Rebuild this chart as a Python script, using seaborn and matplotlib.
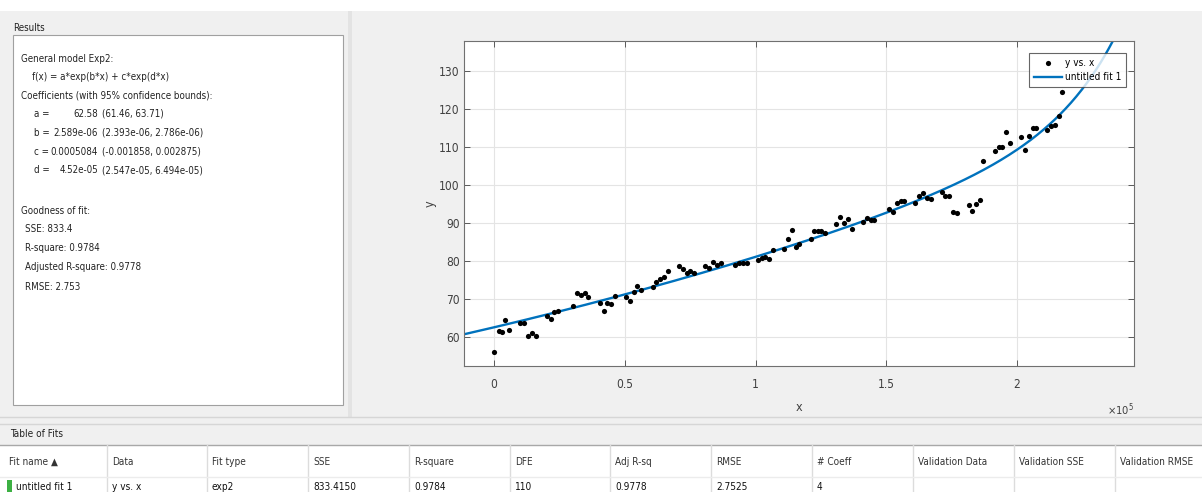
import numpy as np
import pandas as pd
import matplotlib
matplotlib.use('Agg')
import matplotlib.pyplot as plt
import seaborn as sns
from matplotlib.patches import Rectangle
from matplotlib.lines import Line2D
from matplotlib.ticker import FuncFormatter, MultipleLocator

# data (x in raw units, plotted as x10^5)
x_vals = [0, 1700, 2900, 4300, 5700, 10100, 11500, 13000, 14600, 16000,
          20300, 21700, 23100, 24500, 30300, 31700, 33200, 34600, 36100,
          40500, 41900, 43300, 44800, 46200, 50600, 52000, 53400, 54800, 56300,
          60700, 62100, 63500, 64900, 66400, 70600, 72200, 73600, 75000, 76500,
          80800, 82200, 83700, 85100, 86600, 92300, 93700, 95100, 96600,
          100900, 102300, 103700, 105200, 106600, 111000, 112400, 113800, 115300, 116700,
          121100, 122500, 123900, 125200, 126600, 130900, 132400, 133800, 135200, 136700,
          141000, 142500, 144000, 145400, 151000, 152400, 154000, 155500, 156900,
          161100, 162500, 164100, 165500, 166900, 171200, 172600, 174000, 175600, 177000,
          181500, 182900, 184300, 185700, 187100, 191400, 193000, 194400, 195800, 197300,
          201500, 202900, 204500, 205900, 207300, 211600, 213000, 214600, 216000, 217300]
y_vals = [56.0, 61.7, 61.3, 64.5, 61.8, 63.6, 63.6, 60.2, 61.2, 60.3,
          65.6, 64.7, 66.5, 66.9, 68.3, 71.7, 71.0, 71.7, 70.6,
          69.1, 67.0, 69.1, 68.7, 70.8, 70.6, 69.6, 71.8, 73.4, 72.3,
          73.2, 74.4, 75.2, 75.9, 77.4, 78.8, 77.8, 76.8, 77.4, 76.9,
          78.7, 78.3, 79.8, 79.1, 79.6, 79.0, 79.4, 79.5, 79.4,
          80.3, 80.8, 81.0, 80.5, 82.8, 83.2, 85.9, 88.1, 83.8, 84.6,
          85.7, 88.0, 87.8, 87.9, 87.5, 89.7, 91.7, 90.1, 91.2, 88.4,
          90.3, 91.3, 90.8, 90.9, 93.6, 93.0, 95.3, 95.7, 95.8,
          95.3, 97.1, 97.8, 96.5, 96.3, 98.1, 97.1, 97.2, 92.9, 92.6,
          94.8, 93.2, 95.0, 96.2, 106.2, 108.9, 109.9, 110.0, 113.9, 111.1,
          112.7, 109.3, 112.9, 115.0, 114.9, 114.6, 115.6, 115.7, 118.2, 124.5]

coef_names = ['a', 'b', 'c', 'd']
coef_vals = [62.58, 2.589e-06, 0.0005084, 4.52e-05]
coef_lo = [61.46, 2.393e-06, -0.001858, 2.547e-05]
coef_hi = [63.71, 2.786e-06, 0.002875, 6.494e-05]

gof_labels = ['SSE: 833.4', 'R-square: 0.9784', 'Adjusted R-square: 0.9778', 'RMSE: 2.753']

table_cols = ['Fit name \u25b2', 'Data', 'Fit type', 'SSE', 'R-square', 'DFE', 'Adj R-sq',
              'RMSE', '# Coeff', 'Validation Data', 'Validation SSE', 'Validation RMSE']
table_row = ['untitled fit 1', 'y vs. x', 'exp2', '833.4150', '0.9784', '110', '0.9778',
             '2.7525', '4', '', '', '']

plt.rcParams['font.family'] = ['Liberation Sans Narrow', 'DejaVu Sans']
plt.rcParams['font.stretch'] = 'condensed'

W, H = 1202, 492
fig = plt.figure(figsize=(W / 100, H / 100), dpi=100, facecolor='#f0f0f0')


def fx(px):
    return px / W


def fy(py):
    return 1 - py / H


def box(x0, y0, x1, y1, fc, ec='none', lw=0, z=0):
    fig.add_artist(Rectangle((fx(x0), fy(y1)), (x1 - x0) / W, (y1 - y0) / H,
                             transform=fig.transFigure, facecolor=fc,
                             edgecolor=ec, linewidth=lw, zorder=z))


def hline(x0, x1, y, c, lw=1.0):
    fig.add_artist(Line2D([fx(x0), fx(x1)], [fy(y), fy(y)], transform=fig.transFigure,
                          color=c, linewidth=lw, zorder=2))


def vline(x, y0, y1, c, lw=1.0):
    fig.add_artist(Line2D([fx(x), fx(x)], [fy(y0), fy(y1)], transform=fig.transFigure,
                          color=c, linewidth=lw, zorder=2))


def txt(x, y, s, ha='left', size=7.0, color='#222222'):
    fig.text(fx(x), fy(y), s, ha=ha, va='center', fontsize=size, color=color)


# window chrome
box(0, 0, W, 11, 'white')
box(348, 11, 352, 417, '#e3e3e3')
hline(0, W, 417, '#d6d6d6')
hline(0, W, 424, '#d6d6d6')
hline(0, W, 445, '#a8a8a8')
box(0, 445, W, H, 'white')

# results panel
txt(13, 28, 'Results')
box(13, 35, 343, 405, 'white', ec='#a0a0a0', lw=0.8, z=1)
txt(21, 59, 'General model Exp2:')
txt(32, 77, 'f(x) = a*exp(b*x) + c*exp(d*x)')
txt(21, 95, 'Coefficients (with 95% confidence bounds):')
for i, n in enumerate(coef_names):
    yy = 114 + i * 18.8
    txt(34, yy, f'{n} =')
    txt(98, yy, f'{coef_vals[i]:.4g}', ha='right')
    txt(102, yy, f'({coef_lo[i]:.4g}, {coef_hi[i]:.4g})')
txt(21, 211, 'Goodness of fit:')
for i, s in enumerate(gof_labels):
    txt(25, 229 + i * 19.2, s)

# table of fits
txt(10, 434, 'Table of Fits', size=7.2)
seps = [107, 207, 308, 409, 510, 610, 711, 812, 913, 1014, 1115]
lefts = [4] + seps
for s in seps:
    vline(s, 445, H, '#dcdcdc')
hline(0, W, 477, '#ececec')
for i, c in enumerate(table_cols):
    txt(lefts[i] + 5, 462, c, size=7.2, color='#333333')
box(7, 480, 12, H, '#3cb043', z=3)
for i, v in enumerate(table_row):
    xx = 16 if i == 0 else lefts[i] + 5
    txt(xx, 487, v, size=7.2, color='#111111')

# the plot
ax = fig.add_axes([fx(464), fy(366), (1134 - 464) / W, (366 - 41) / H])
ax.set_facecolor('white')
df = pd.DataFrame({'x': x_vals, 'y': y_vals})
xfit = np.linspace(-11500, 244700, 500)
yfit = coef_vals[0] * np.exp(coef_vals[1] * xfit) + coef_vals[2] * np.exp(coef_vals[3] * xfit)
fit = pd.DataFrame({'x': xfit, 'y': yfit})

sns.scatterplot(data=df, x='x', y='y', ax=ax, color='black', s=14, linewidth=0,
                label='y vs. x', zorder=3)
sns.lineplot(data=fit, x='x', y='y', ax=ax, color='#0072BD', linewidth=1.7,
             label='untitled fit 1', zorder=2)

ax.set_xlim(-11500, 244700)
ax.set_ylim(52.4, 137.9)
ax.xaxis.set_major_locator(MultipleLocator(50000))
ax.yaxis.set_major_locator(MultipleLocator(10))
ax.xaxis.set_major_formatter(FuncFormatter(lambda v, p: f'{v / 1e5:g}'))
ax.grid(True, color='#e4e4e4', linewidth=0.8)
ax.set_axisbelow(True)
ax.tick_params(direction='in', top=True, right=True, length=4, width=0.7,
               colors='#5a5a5a', labelcolor='#404040', labelsize=8.6)
ax.tick_params(axis='x', pad=9)
ax.tick_params(axis='y', pad=3)
for sp in ax.spines.values():
    sp.set_color('#707070')
    sp.set_linewidth(0.8)

ax.set_xlabel('x', fontsize=9, color='#404040')
ax.set_ylabel('y', fontsize=9, color='#404040')
ax.xaxis.set_label_coords(0.5, -(401 - 366) / 325)
ax.yaxis.set_label_coords((437 - 464) / 670, 0.5)
ax.text(1.0, -(410 - 366) / 325, r'$\times10^{5}$', transform=ax.transAxes,
        ha='right', va='center', fontsize=8, color='#404040')

leg = ax.legend(loc='upper right', bbox_to_anchor=((1126 - 464) / 670, 1 - (53 - 41) / 325),
                borderaxespad=0, fontsize=7.2, frameon=True, fancybox=False,
                handlelength=2.8, handletextpad=0.3, borderpad=0.5, labelspacing=0.4)
leg.get_frame().set_edgecolor('#404040')
leg.get_frame().set_linewidth(0.8)

plt.savefig('out.png', dpi=100, facecolor=fig.get_facecolor())
